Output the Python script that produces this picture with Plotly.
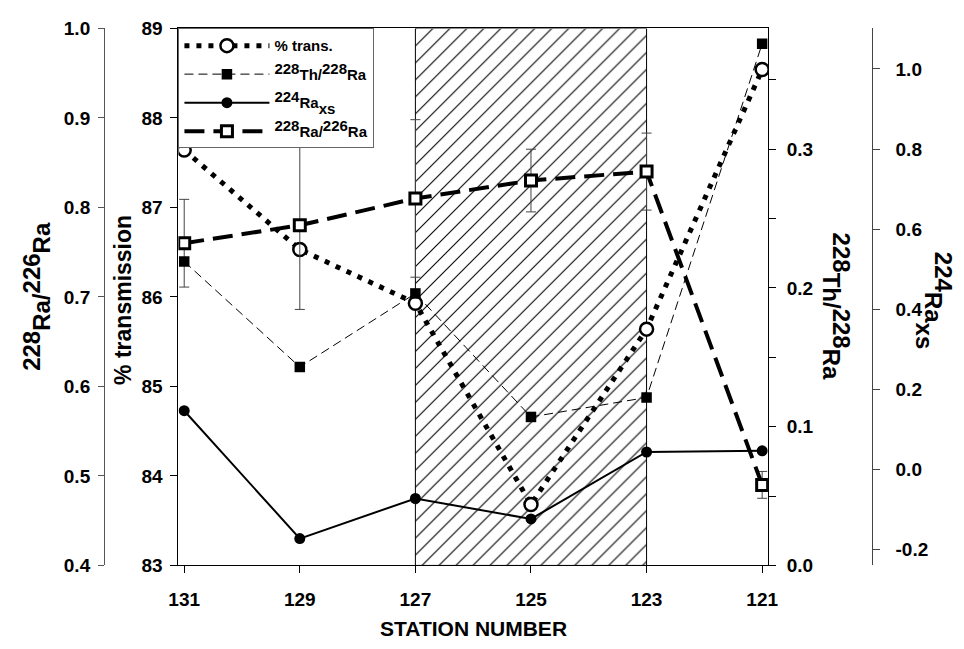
import plotly.graph_objects as go

# Station transect data
stations = [131, 129, 127, 125, 123, 121]
pct_trans = [87.64, 86.53, 85.93, 83.68, 85.64, 88.54]
th228_ra228 = [0.219, 0.143, 0.196, 0.107, 0.121, 0.376]
ra224_xs = [0.147, -0.172, -0.072, -0.123, 0.044, 0.047]
ra228_ra226 = [0.76, 0.78, 0.81, 0.83, 0.84, 0.49]
ra228_ra226_err = [0.049, 0.094, 0.088, 0.035, 0.043, 0.015]

# Hatched band between two stations
band_stations = [127, 123]

x_ticks = [131, 129, 127, 125, 123, 121]
raxs_ticks = [-0.2, 0.0, 0.2, 0.4, 0.6, 0.8, 1.0]

W, H = 964, 649
FONT = "Liberation Sans"
x_dom = [172 / W, 774 / W]
y_dom = [(H - 574) / H, (H - 19) / H]


def iso(mass, sym, size):
    """Mass number raised above the element symbol, both at full size."""
    return f"<sup><span style='font-size:{size}px'>{mass}</span></sup>{sym}"


def low(txt, size):
    """Lowered qualifier text kept at full size."""
    return f"<sub><sub><span style='font-size:{size}px'>{txt}</span></sub></sub>"


LEG = 15
tick_font = dict(family=FONT, size=19, color="black", weight="bold")

fig = go.Figure()

# hatched band (full height of the transmission axis)
b0, b1 = band_stations
fig.add_trace(go.Scatter(
    x=[b0, b0, b1, b1, b0], y=[83, 89, 89, 83, 83],
    mode="lines", fill="toself",
    line=dict(color="black", width=1),
    fillcolor="white",
    fillpattern=dict(shape="/", size=12, solidity=0.09,
                     fgcolor="black", bgcolor="white", fgopacity=1),
    showlegend=False, hoverinfo="skip", xaxis="x", yaxis="y",
))

fig.add_trace(go.Scatter(
    x=stations, y=pct_trans, name="% trans.", legendgroup="trans",
    mode="lines+markers",
    line=dict(color="black", width=5, dash="5px,7px"),
    marker=dict(symbol="circle", size=13, color="white",
                line=dict(color="black", width=2.5)),
    xaxis="x", yaxis="y",
))

fig.add_trace(go.Scatter(
    x=stations, y=th228_ra228, legendgroup="th",
    name=iso(228, "Th/", LEG) + iso(228, "Ra", LEG),
    mode="lines+markers",
    line=dict(color="black", width=1, dash="9px,5px"),
    marker=dict(symbol="square", size=10.5, color="black"),
    xaxis="x", yaxis="y3",
))

fig.add_trace(go.Scatter(
    x=stations, y=ra224_xs, legendgroup="ra224",
    name=iso(224, "Ra", LEG) + low("xs", LEG),
    mode="lines+markers",
    line=dict(color="black", width=2),
    marker=dict(symbol="circle", size=11, color="black"),
    xaxis="x", yaxis="y4",
))

fig.add_trace(go.Scatter(
    x=stations, y=ra228_ra226, legendgroup="ra228",
    name=iso(228, "Ra/", LEG) + iso(226, "Ra", LEG),
    mode="lines+markers",
    line=dict(color="black", width=4, dash="20px,9px"),
    marker=dict(symbol="square", size=11, color="white",
                line=dict(color="black", width=3)),
    error_y=dict(type="data", array=ra228_ra226_err, visible=True,
                 color="#444", thickness=1, width=5),
    xaxis="x", yaxis="y2",
))

axis_common = dict(showgrid=False, zeroline=False, ticks="outside",
                   tickfont=tick_font, linewidth=1)

fig.update_layout(
    width=W, height=H,
    margin=dict(l=0, r=0, t=0, b=0),
    paper_bgcolor="white", plot_bgcolor="white",
    font=dict(family=FONT, color="black"),
    showlegend=True,
    legend=dict(
        x=x_dom[0], y=y_dom[1], xanchor="left", yanchor="top",
        bgcolor="white", bordercolor="#666", borderwidth=1,
        font=dict(family=FONT, size=LEG, color="black", weight="bold"),
        itemwidth=85, tracegroupgap=6,
    ),
    xaxis=dict(
        domain=x_dom, range=[131.1, 120.9], anchor="y",
        tickvals=x_ticks, ticklen=7, tickcolor="black",
        showline=True, mirror=True, linecolor="black",
        ticklabelstandoff=10,
        **axis_common,
    ),
    yaxis=dict(
        domain=y_dom, range=[83, 89], dtick=1, anchor="x", side="left",
        ticklen=7, tickcolor="black", showline=True, linecolor="black",
        ticklabelstandoff=4,
        **axis_common,
    ),
    yaxis2=dict(
        overlaying="y", anchor="free", position=96 / W, side="left",
        range=[0.4, 1.0], dtick=0.1, tickformat=".1f",
        ticklen=6, tickcolor="#555", showline=True, linecolor="#555",
        ticklabelstandoff=4,
        **axis_common,
    ),
    yaxis3=dict(
        overlaying="y", anchor="x", side="right",
        range=[0, 0.387], dtick=0.1, tickformat=".1f",
        ticklen=7, tickcolor="black", showline=True, linecolor="black",
        minor=dict(dtick=0.05, ticks="outside", ticklen=7, tickcolor="black"),
        ticklabelstandoff=7,
        **axis_common,
    ),
    yaxis4=dict(
        overlaying="y", anchor="free", position=880 / W, side="right",
        range=[-0.239, 1.101], tickvals=raxs_ticks,
        ticktext=[f"{v:.1f}" for v in raxs_ticks],
        ticklen=7, tickcolor="#444", showline=True, linecolor="#444",
        ticklabelstandoff=12,
        **axis_common,
    ),
)


def add_title(text, px, py, angle, size):
    fig.add_annotation(
        text=text, x=px / W, y=(H - py) / H, xref="paper", yref="paper",
        xanchor="center", yanchor="middle", textangle=angle,
        showarrow=False,
        font=dict(family=FONT, size=size, color="black", weight="bold"),
    )


add_title(iso(228, "Ra/", 24) + iso(226, "Ra", 24), 27, 296, -90, 24)
add_title("% transmission", 116, 300, -90, 23)
add_title(iso(228, "Th/", 24) + iso(228, "Ra", 24), 844, 306, 90, 24)
add_title(iso(224, "Ra", 24) + low("xs", 24), 943, 300, 90, 24)
add_title("STATION NUMBER", 473, 639, 0, 21)

fig.write_html("out.html")
